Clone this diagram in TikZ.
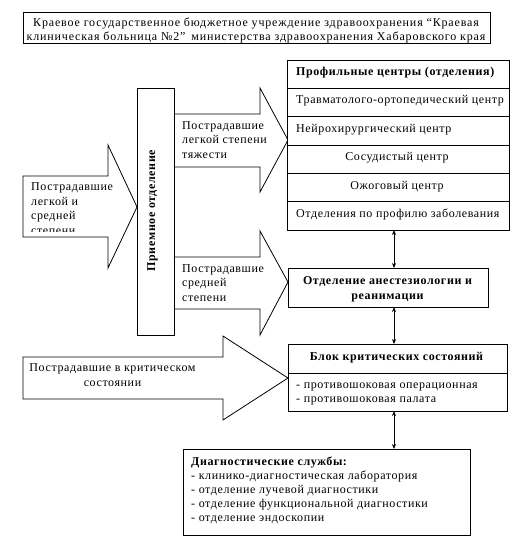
\documentclass[tikz,border=0pt]{standalone}
\usepackage{fontspec}
\setmainfont{Liberation Serif}[LetterSpace=5]
\usetikzlibrary{arrows.meta}
\newcommand\dfont{\fontsize{12}{14.35}\selectfont}
\tikzset{
  box/.style={draw, line width=0.8pt, inner sep=0pt, outer sep=0pt, fill=white},
  tx/.style={inner sep=0pt, font=\dfont, align=left, anchor=north west,
    execute at begin node=\strut, execute at end node=\strut},
  ctx/.style={tx, align=center, anchor=north},
  barrow/.style={draw, line width=0.8pt, fill=white, line join=miter},
  link/.style={{Stealth[length=5pt,width=4pt]}-{Stealth[length=5pt,width=4pt]}, line width=0.8pt},
  bold/.style={font=\dfont\bfseries}
}
\begin{document}
\begin{tikzpicture}[x=1pt,y=-1pt]
\useasboundingbox (0,0) rectangle (514,539);
% block arrows
\draw[barrow] (23,176) -- (108,176) -- (108,145) -- (137,207) -- (108,268) -- (108,237) -- (23,237) -- cycle;
\draw[barrow] (174,114) -- (260,114) -- (260,88) -- (288,140) -- (260,192) -- (260,167) -- (174,167) -- cycle;
\draw[barrow] (174,257) -- (260,257) -- (260,231) -- (288,282) -- (260,335) -- (260,309) -- (174,309) -- cycle;
\draw[barrow] (23,357) -- (223,357) -- (223,336) -- (288,378) -- (223,420) -- (223,399) -- (23,399) -- cycle;
% arrow texts
\begin{scope}
  \clip (23.5,176.5) rectangle (130,231.7);
  \node[tx] (t1) at (31,180.7) {\strut Пострадавшие\\легкой и\\средней\\степени};
\end{scope}
\node[tx] (t2) at (182,119.3) {\strut Пострадавшие\\легкой степени\\тяжести};
\node[tx] (t3) at (182,262.3) {\strut Пострадавшие\\средней\\степени};
\node[ctx] (t4) at (112.5,361.7) {\strut Пострадавшие в критическом\\состоянии};
% title
\node[box, minimum width=467pt, minimum height=31pt] (title) at (256.5,27.5) {};
\node[ctx, font=\fontsize{12}{14}\selectfont\addfontfeature{LetterSpace=7}] (titletxt) at (256,16.7)
  {\strut Краевое государственное бюджетное учреждение здравоохранения “Краевая\\клиническая больница №2”\, министерства здравоохранения Хабаровского края};
% reception
\node[box, minimum width=37pt, minimum height=247pt] (recep) at (155.5,211.5) {};
\node[inner sep=0pt, rotate=90, anchor=base, bold] (receptxt) at (155,210.5) {Приемное отделение};
% profile centres
\node[box, minimum width=222pt, minimum height=28.33pt] (p0) at (398,74.17) {};
\node[box, minimum width=222pt, minimum height=28.33pt] (p1) at (398,102.5) {};
\node[box, minimum width=222pt, minimum height=28.33pt] (p2) at (398,130.83) {};
\node[box, minimum width=222pt, minimum height=28.33pt] (p3) at (398,159.17) {};
\node[box, minimum width=222pt, minimum height=28.33pt] (p4) at (398,187.5) {};
\node[box, minimum width=222pt, minimum height=28.33pt] (p5) at (398,215.83) {};
\node[tx, bold] (p0t) at (296,65.3) {Профильные центры (отделения)};
\node[tx] (p1t) at (296,93) {Травматолого-ортопедический центр};
\node[tx] (p2t) at (296,122) {Нейрохирургический центр};
\node[ctx] (p3t) at (397,150.5) {Сосудистый центр};
\node[ctx] (p4t) at (397,179) {Ожоговый центр};
\node[tx] (p5t) at (296,207.5) {Отделения по профилю заболевания};
% anesthesiology
\node[box, minimum width=200pt, minimum height=39pt] (anest) at (388,287.5) {};
\node[ctx, bold] (anestt) at (387.5,274.5) {\strut Отделение анестезиологии и\\реанимации};
% critical block
\node[box, minimum width=219pt, minimum height=29pt] (bh) at (397.5,358.5) {};
\node[box, minimum width=219pt, minimum height=38pt] (bb) at (397.5,392) {};
\node[ctx, bold] (bht) at (396.5,350) {Блок критических состояний};
\node[tx] (bbt) at (296,378.3) {\strut - противошоковая операционная\\- противошоковая палата};
% diagnostics
\node[box, minimum width=287pt, minimum height=86pt] (diag) at (326.5,492) {};
\node[tx, font=\fontsize{12}{14.2}\selectfont] (diagt) at (191,455)
  {\strut\textbf{Диагностические службы:}\\- клинико-диагностическая лаборатория\\- отделение лучевой диагностики\\- отделение функциональной диагностики\\- отделение эндоскопии};
% links
\coordinate (ax) at (394,0);
\draw[link] (p5.south -| ax) -- (anest.north -| ax);
\draw[link] (anest.south -| ax) -- (bh.north -| ax);
\draw[link] (bb.south -| ax) -- (diag.north -| ax);
\end{tikzpicture}
\end{document}
